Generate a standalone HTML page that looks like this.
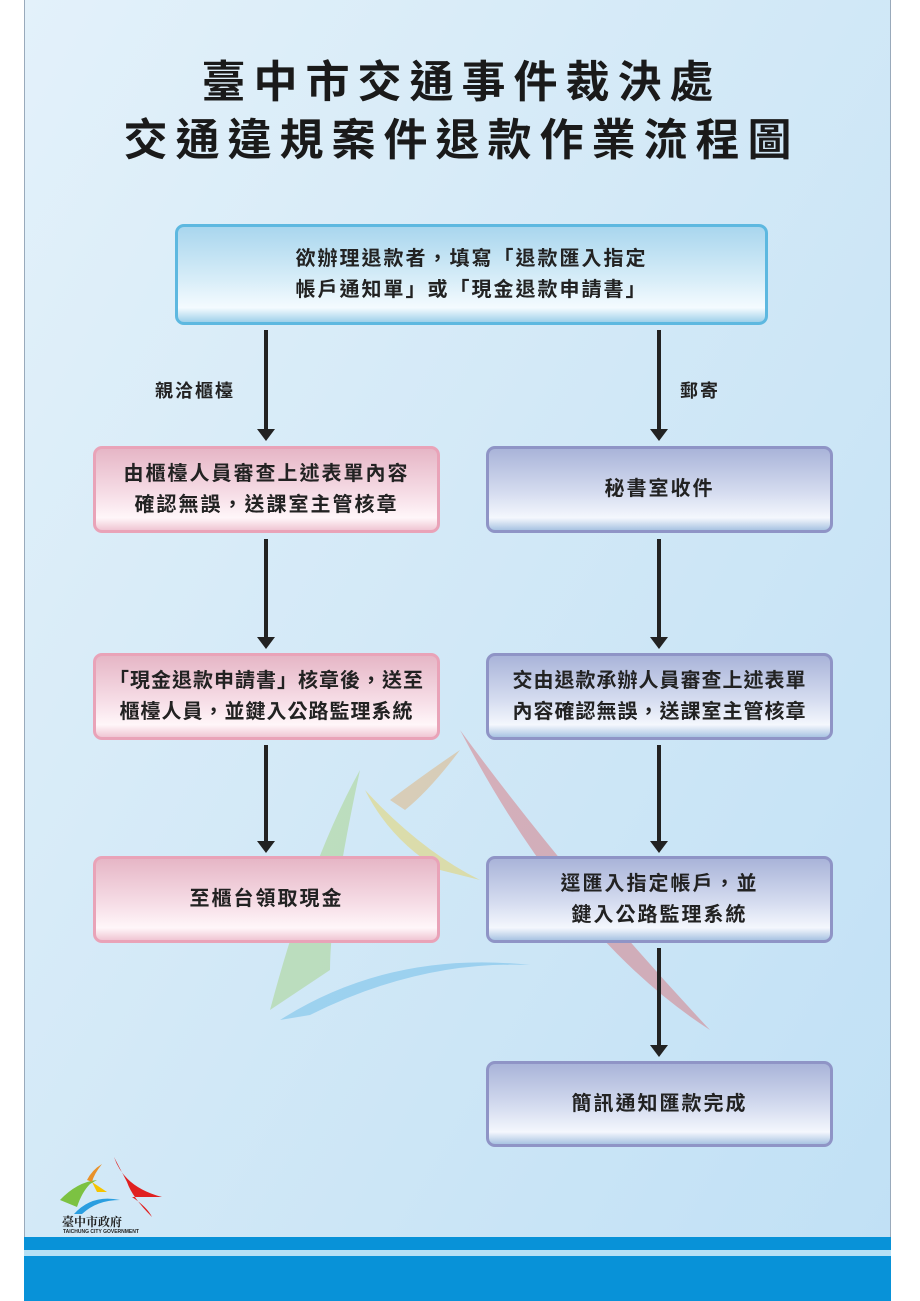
<!DOCTYPE html>
<html><head><meta charset="utf-8"><style>
*{margin:0;padding:0;box-sizing:border-box}
body{width:920px;height:1301px;background:#fff;position:relative;overflow:hidden;font-family:"Liberation Sans","Noto Sans CJK TC",sans-serif}
.frame{position:absolute;left:24px;top:0;width:867px;height:1301px;background:linear-gradient(120deg,#e3f1fa 0%,#d3e9f7 45%,#c0e0f5 100%);border-left:1px solid #9ab;border-right:1px solid #9ab}
.t{position:absolute;left:24px;width:867px;text-align:center;font-weight:bold;font-size:44px;letter-spacing:8px;text-indent:8px;color:#1a1a1a}
.box{position:absolute;border-radius:9px;display:flex;align-items:center;justify-content:center;text-align:center;font-size:20px;line-height:31px;letter-spacing:2px;color:#222;font-weight:bold}
.blue{border:3px solid #5db8e0;background:linear-gradient(#a9d6ee 0%,#d7edf8 55%,#f4fbff 85%,#9fd0ea 100%)}
.pink{border:3px solid #e9a3b8;background:linear-gradient(#e6b6c6 0%,#f6dde6 55%,#fff6f9 85%,#f0c6d3 100%)}
.pur{border:3px solid #8f94c6;background:linear-gradient(#a9b4d9 0%,#d6ddf0 55%,#f4f7fd 85%,#a9c4e2 100%)}
.ln{position:absolute;width:4px;background:#222}
.ah{position:absolute;width:0;height:0;border-left:9px solid transparent;border-right:9px solid transparent;border-top:12px solid #222}
.lbl{position:absolute;font-size:18px;font-weight:bold;letter-spacing:2px;color:#222}
</style></head><body>
<div class="frame"></div>
<svg style="position:absolute;left:190px;top:710px" width="560" height="330" opacity="0.3">
<path d="M80 300 Q120 150 170 60 Q140 200 140 260Z" fill="#8cc63f"/>
<path d="M175 80 Q230 140 290 170 L250 160 Q200 130 175 80Z" fill="#f5c400"/>
<path d="M270 20 Q380 170 520 320 Q380 230 270 20Z" fill="#e03030"/>
<path d="M90 310 Q200 240 340 255 Q230 250 120 305Z" fill="#2aa0e0"/>
<path d="M200 90 Q240 60 270 40 Q240 80 215 100Z" fill="#e8912a"/>
</svg>
<div class="t" style="top:46px">臺中市交通事件裁決處</div>
<div class="t" style="top:104px">交通違規案件退款作業流程圖</div>

<div class="box blue" style="left:175px;top:224px;width:593px;height:101px">欲辦理退款者，填寫「退款匯入指定<br>帳戶通知單」或「現金退款申請書」</div>

<div class="box pink" style="left:93px;top:446px;width:347px;height:87px">由櫃檯人員審查上述表單內容<br>確認無誤，送課室主管核章</div>
<div class="box pink" style="left:93px;top:653px;width:347px;height:87px;letter-spacing:1px">「現金退款申請書」核章後，送至<br>櫃檯人員，並鍵入公路監理系統</div>
<div class="box pink" style="left:93px;top:856px;width:347px;height:87px">至櫃台領取現金</div>

<div class="box pur" style="left:486px;top:446px;width:347px;height:87px">秘書室收件</div>
<div class="box pur" style="left:486px;top:653px;width:347px;height:87px;letter-spacing:1px">交由退款承辦人員審查上述表單<br>內容確認無誤，送課室主管核章</div>
<div class="box pur" style="left:486px;top:856px;width:347px;height:87px">逕匯入指定帳戶，並<br>鍵入公路監理系統</div>
<div class="box pur" style="left:486px;top:1061px;width:347px;height:86px">簡訊通知匯款完成</div>

<div class="ln" style="left:264px;top:330px;height:100px"></div><div class="ah" style="left:257px;top:429px"></div>
<div class="ln" style="left:264px;top:539px;height:99px"></div><div class="ah" style="left:257px;top:637px"></div>
<div class="ln" style="left:264px;top:745px;height:97px"></div><div class="ah" style="left:257px;top:841px"></div>
<div class="ln" style="left:657px;top:330px;height:100px"></div><div class="ah" style="left:650px;top:429px"></div>
<div class="ln" style="left:657px;top:539px;height:99px"></div><div class="ah" style="left:650px;top:637px"></div>
<div class="ln" style="left:657px;top:745px;height:97px"></div><div class="ah" style="left:650px;top:841px"></div>
<div class="ln" style="left:657px;top:948px;height:98px"></div><div class="ah" style="left:650px;top:1045px"></div>

<div class="lbl" style="left:155px;top:377px">親洽櫃檯</div>
<div class="lbl" style="left:680px;top:377px">郵寄</div>

<svg style="position:absolute;left:52px;top:1152px" width="110" height="65">
<path d="M8 48 Q25 30 45 28 L38 32 Q30 40 25 55Z" fill="#7cc242"/>
<path d="M35 28 Q40 18 50 12 Q42 22 40 30Z" fill="#e8912a"/>
<path d="M40 30 L55 40 L45 40Z" fill="#f5c400"/>
<path d="M62 5 Q72 35 110 45 L80 45 Q95 55 100 65 Q80 45 75 30Z" fill="#e02020"/>
<path d="M22 62 Q40 42 68 48 Q45 48 30 62Z" fill="#2a9ee0"/>
</svg>
<div style="position:absolute;left:62px;top:1213px;font-size:12px;font-weight:bold;font-family:'Noto Serif CJK SC',serif;color:#222">臺中市政府</div>
<div style="position:absolute;left:63px;top:1229px;font-size:5px;font-weight:bold;color:#222">TAICHUNG CITY GOVERNMENT</div>

<div style="position:absolute;left:24px;top:1237px;width:867px;height:64px;background:#0892d8"></div>
<div style="position:absolute;left:24px;top:1250px;width:867px;height:6px;background:#b5e0f5"></div>
</body></html>
